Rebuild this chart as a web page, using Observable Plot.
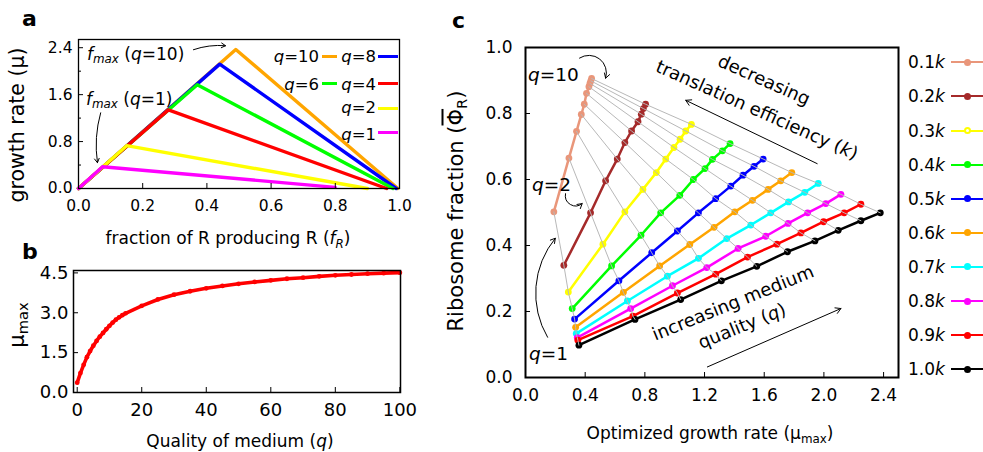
<!DOCTYPE html>
<html><head><meta charset="utf-8">
<script src="https://cdn.jsdelivr.net/npm/d3@7"></script>
<script src="https://cdn.jsdelivr.net/npm/@observablehq/plot@0.6"></script>
<style>
body{margin:0;background:#fff;font-family:"DejaVu Sans";}
#fig{position:relative;width:983px;height:452px;overflow:hidden;background:#fff;}
.abs{position:absolute;white-space:nowrap;line-height:1;color:#000;font-family:"DejaVu Sans";}
.sub{font-size:0.7em;position:relative;top:0.3em;}
.ov{text-decoration:overline;}
</style></head><body><div id="fig"></div>
<script>
// ---------- Panel a data: growth rate vs fraction f_R ----------
const aQ = [10, 8, 6, 4, 2, 1];
const aColors = ["#FFA500", "#0000FF", "#00FF00", "#FF0000", "#FFFF00", "#FF00FF"];
const aPeakF = [0.49, 0.44, 0.37, 0.28, 0.15, 0.075];
const aPeakMu = [2.37, 2.12, 1.77, 1.34, 0.73, 0.37];
const aEndF = [0.995, 0.99, 0.98, 0.96, 0.90, 0.80];
const aEndMu = [0, 0, 0, 0, 0, 0.02];
const aXTicks = [0, 0.2, 0.4, 0.6, 0.8, 1.0];
const aYTicks = [0, 0.8, 1.6, 2.4];
const aYMinor = [0.4, 1.2, 2.0];

// ---------- Panel b data: mu_max vs medium quality ----------
const bQ = [0,1,2,3,4,5,6,7,8,9,10,11,12,13,14,15,20,25,30,35,40,45,50,55,60,65,70,75,80,85,90,95,100];
const bMu = [0.37,0.73,1.04,1.33,1.56,1.76,1.94,2.10,2.24,2.38,2.51,2.63,2.74,2.83,2.91,2.98,3.26,3.50,3.68,3.81,3.92,4.01,4.09,4.16,4.22,4.28,4.32,4.37,4.41,4.44,4.47,4.49,4.51];
const bXTicks = [0, 20, 40, 60, 80, 100];
const bYTicks = [0, 1.5, 3.0, 4.5];

// ---------- Panel c data: ribosome fraction vs optimized growth ----------
const kLabels = ["0.1","0.2","0.3","0.4","0.5","0.6","0.7","0.8","0.9","1.0"];
const kColors = ["#E9967A","#A52A2A","#FFFF00","#00FF00","#0000FF","#FFA500","#00FFFF","#FF00FF","#FF0000","#000000"];
const qC = [1,2,3,4,5,6,7,8,9,10];
const cMu = [
 [0.190,0.291,0.342,0.374,0.394,0.409,0.425,0.432,0.438,0.443],
 [0.257,0.436,0.537,0.615,0.666,0.711,0.754,0.776,0.790,0.805],
 [0.287,0.519,0.666,0.787,0.877,0.940,0.995,1.036,1.074,1.112],
 [0.313,0.577,0.774,0.906,1.034,1.125,1.203,1.253,1.320,1.371],
 [0.329,0.626,0.846,1.018,1.159,1.275,1.376,1.458,1.532,1.593],
 [0.336,0.656,0.899,1.101,1.264,1.403,1.521,1.626,1.711,1.785],
 [0.340,0.683,0.951,1.159,1.349,1.510,1.644,1.763,1.872,1.962],
 [0.347,0.705,0.985,1.215,1.425,1.610,1.760,1.891,2.013,2.114],
 [0.351,0.720,1.018,1.275,1.488,1.685,1.846,1.998,2.136,2.248],
 [0.358,0.734,1.040,1.313,1.550,1.756,1.940,2.096,2.248,2.378]
];
const cPhi = [
 [0.502,0.665,0.746,0.797,0.828,0.861,0.881,0.891,0.899,0.906],
 [0.340,0.499,0.596,0.662,0.712,0.747,0.775,0.798,0.815,0.828],
 [0.259,0.404,0.502,0.570,0.621,0.662,0.697,0.722,0.747,0.767],
 [0.209,0.338,0.431,0.499,0.552,0.600,0.633,0.661,0.687,0.709],
 [0.177,0.293,0.378,0.444,0.499,0.542,0.580,0.613,0.640,0.662],
 [0.152,0.258,0.338,0.403,0.455,0.502,0.537,0.570,0.596,0.621],
 [0.133,0.232,0.307,0.361,0.421,0.462,0.499,0.532,0.561,0.588],
 [0.121,0.209,0.278,0.333,0.391,0.428,0.467,0.499,0.527,0.555],
 [0.113,0.186,0.256,0.313,0.365,0.404,0.438,0.472,0.499,0.525],
 [0.098,0.176,0.236,0.293,0.337,0.381,0.414,0.446,0.475,0.499]
];
const cXTicks = [0, 0.4, 0.8, 1.2, 1.6, 2.0, 2.4];
const cYTicks = [0, 0.2, 0.4, 0.6, 0.8, 1.0];

// ---------- helpers ----------
const fig = document.getElementById("fig");
const FONT = "DejaVu Sans";
function place(el, left, top) {
  el.style.position = "absolute"; el.style.left = left + "px"; el.style.top = top + "px";
  fig.appendChild(el);
}
function txt(html, x, y, size, mode = "lt", rot = 0, extra = "") {
  const d = document.createElement("div");
  d.className = "abs"; d.innerHTML = html;
  d.style.cssText += `font-size:${size}px;left:${x}px;top:${y}px;${extra}`;
  if (mode === "c") d.style.transform = `translate(-50%,-50%) rotate(${rot}deg)`;
  else if (mode === "r") d.style.transform = "translate(-100%,0)";
  fig.appendChild(d);
  return d;
}
function swatch(x1, x2, y, color, w) {
  const d = document.createElement("div");
  d.style.cssText = `position:absolute;left:${x1}px;top:${y - w/2}px;width:${x2 - x1}px;height:${w}px;background:${color};`;
  fig.appendChild(d);
}
function arrow(x1, y1, x2, y2, bend, head = 8) {
  return Plot.arrow([{x1, y1, x2, y2}], {x1: "x1", y1: "y1", x2: "x2", y2: "y2", bend, headLength: head, strokeWidth: 1, stroke: "black"});
}
const fmt1 = d3.format(".1f");

// ---------- Panel a ----------
const aRows = [];
aQ.forEach((q, i) => {
  aRows.push({q, f: 0, mu: 0});
  aRows.push({q, f: aPeakF[i], mu: aPeakMu[i]});
  aRows.push({q, f: aEndF[i], mu: aEndMu[i]});
});
const pa = Plot.plot({
  width: 410, height: 230,
  marginLeft: 78, marginRight: 11, marginTop: 39, marginBottom: 42,
  x: {domain: [0, 1], label: null},
  y: {domain: [0, 2.54], label: null},
  color: {type: "ordinal", domain: aQ, range: aColors},
  style: {fontFamily: FONT, background: "transparent", overflow: "visible"},
  marks: [
    Plot.line(aRows, {x: "f", y: "mu", z: "q", stroke: "q", strokeWidth: 3.4, strokeLinejoin: "round"}),
    Plot.frame({stroke: "black", strokeWidth: 1.3}),
    Plot.axisX(aXTicks, {tickSize: -5, tickPadding: 16, tickFormat: fmt1, fontSize: 15.5, label: null}),
    Plot.axisY(aYTicks, {tickSize: -5, tickPadding: 11, tickFormat: fmt1, fontSize: 15.5, label: null}),
    Plot.axisY(aYMinor, {tickSize: -3, tickFormat: () => "", label: null}),
    arrow(0.358, 2.366, 0.458, 2.434, 12, 7),
    arrow(0.069, 1.29, 0.059, 0.44, -12, 7)
  ]
});
place(pa, 0, 0);

// ---------- Panel b ----------
const bRows = bQ.map((q, i) => ({q, mu: bMu[i]}));
const pb = Plot.plot({
  width: 410, height: 222,
  marginLeft: 73, marginRight: 10, marginTop: 40, marginBottom: 60,
  x: {domain: [-1.15, 100.2], label: null},
  y: {domain: [0, 4.59], label: null},
  style: {fontFamily: FONT, background: "transparent", overflow: "visible"},
  marks: [
    Plot.line(bRows, {x: "q", y: "mu", stroke: "#FF0000", strokeWidth: 3.6}),
    Plot.dot(bRows, {x: "q", y: "mu", fill: "#FF0000", r: 2.4}),
    Plot.frame({stroke: "black", strokeWidth: 1.5}),
    Plot.axisX(bXTicks, {tickSize: -5, tickPadding: 16, fontSize: 18, label: null}),
    Plot.axisY(bYTicks, {tickSize: -5, tickPadding: 10, tickFormat: fmt1, fontSize: 18, label: null})
  ]
});
place(pb, 0, 230);

// ---------- Panel c ----------
const cRows = [];
kLabels.forEach((k, i) => cMu[i].forEach((m, j) => cRows.push({k, q: qC[j], mu: m, phi: cPhi[i][j]})));
const pc = Plot.plot({
  width: 465, height: 452,
  marginLeft: 85, marginRight: 7, marginTop: 47, marginBottom: 75,
  x: {domain: [0, 2.5], label: null},
  y: {domain: [0, 1], label: null},
  color: {type: "ordinal", domain: kLabels, range: kColors},
  style: {fontFamily: FONT, background: "transparent", overflow: "visible"},
  marks: [
    Plot.line(cRows, {x: "mu", y: "phi", z: "k", stroke: "k", strokeWidth: 2.5}),
    Plot.dot(cRows, {x: "mu", y: "phi", fill: "k", r: 3.4}),
    Plot.line(cRows, {x: "mu", y: "phi", z: "q", stroke: "#b8b8b8", strokeWidth: 1}),
    Plot.frame({stroke: "black", strokeWidth: 2}),
    Plot.axisX(cXTicks, {tickSize: -5, tickPadding: 16, tickFormat: fmt1, fontSize: 17, label: null}),
    Plot.axisY(cYTicks, {tickSize: -5, tickPadding: 18, tickFormat: fmt1, fontSize: 17, label: null}),
    arrow(0.362, 0.968, 0.537, 0.907, 70),
    arrow(0.268, 0.557, 0.380, 0.527, -70),
    arrow(0.148, 0.122, 0.200, 0.422, 35),
    arrow(1.955, 0.648, 1.074, 0.840, 0, 9),
    arrow(1.219, 0.032, 2.114, 0.209, 0, 9)
  ]
});
place(pc, 440, 0);

// ---------- Text: panel letters ----------
txt("a", 22, 8, 22, "lt", 0, "font-weight:bold;");
txt("b", 22, 241, 22, "lt", 0, "font-weight:bold;");
txt("c", 452, 10, 22, "lt", 0, "font-weight:bold;");

// ---------- Axis labels ----------
txt("growth rate (μ)", 17, 125, 20.5, "c", -90);
txt("fraction of R producing R (<i>f</i><span class='sub'><i>R</i></span>)", 228, 238, 17, "c");
txt("μ<span class='sub'>max</span>", 17, 325, 21, "c", -90);
txt("Quality of medium (<i>q</i>)", 240, 441, 17, "c");
txt("Ribosome fraction (<span class='ov'>Φ</span><span class='sub'>R</span>)", 456, 211, 21, "c", -90);
txt("Optimized growth rate (μ<span class='sub'>max</span>)", 710, 433, 17, "c");

// ---------- Panel a annotations & legend ----------
txt("<i>f</i><span class='sub'><i>max</i></span> (<i>q</i>=10)", 87, 45.6, 17);
txt("<i>f</i><span class='sub'><i>max</i></span> (<i>q</i>=1)", 86, 90.6, 17);
const aLegPos = [
  {tx: 319, ty: 49, lx1: 322, lx2: 337, ly: 56.7},
  {tx: 376, ty: 49, lx1: 378, lx2: 398, ly: 56.7},
  {tx: 319, ty: 76.5, lx1: 322, lx2: 337, ly: 83.3},
  {tx: 376, ty: 76.5, lx1: 378, lx2: 398, ly: 83.3},
  {tx: 376, ty: 99.8, lx1: 378, lx2: 398, ly: 108.3},
  {tx: 376, ty: 126.5, lx1: 378, lx2: 398, ly: 132.7}
];
aQ.forEach((q, i) => {
  const p = aLegPos[i];
  txt(`<i>q</i>=${q}`, p.tx, p.ty, 16.5, "r");
  swatch(p.lx1, p.lx2, p.ly, aColors[i], 3);
});

// ---------- Panel c annotations ----------
txt("<i>q</i>=10", 528, 66, 18.5);
txt("<i>q</i>=2", 532, 176, 18.5);
txt("<i>q</i>=1", 529, 344.5, 18.5);
txt("decreasing", 764, 80, 18, "c", 24);
txt("translation efficiency (<i>k</i>)", 757, 110, 18, "c", 24);
txt("increasing medium", 733, 303, 18, "c", -22);
txt("quality (<i>q</i>)", 742, 326, 18, "c", -22);

// ---------- Panel c legend ----------
kLabels.forEach((k, i) => {
  const y = 62.3 + i * 34.1;
  const t = txt(`${k}<i>k</i>`, 908, y, 17, "lt");
  t.style.transform = "translate(0,-50%)";
  swatch(951, 983, y, kColors[i], 2);
  const c = document.createElement("div");
  const hollow = k === "0.3";
  c.style.cssText = `position:absolute;left:${967 - 3.5}px;top:${y - 3.5}px;width:7px;height:7px;border-radius:50%;box-sizing:border-box;background:${hollow ? "#fff" : kColors[i]};border:${hollow ? "2px solid " + kColors[i] : "none"};`;
  fig.appendChild(c);
});
</script></body></html>
